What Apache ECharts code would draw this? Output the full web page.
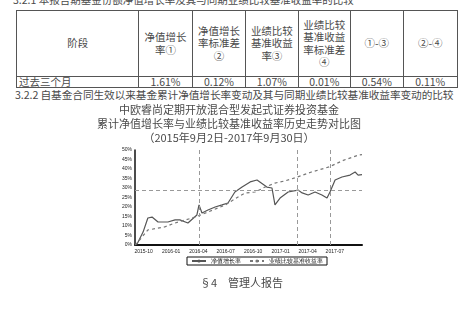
<!DOCTYPE html>
<html>
<head>
<meta charset="utf-8">
<script src="https://cdn.jsdelivr.net/npm/echarts@6/dist/echarts.min.js"></script>
<style>
    html, body { margin: 0; padding: 0; background: #fff; width: 458px; height: 309px; overflow: hidden; }
    body { font-family: "Noto Sans CJK SC", sans-serif; color: #4a4a4a; position: relative; }
    .line { position: absolute; white-space: nowrap; font-size: 11px; line-height: 14px; z-index: 2; }
    .center { left: 0; width: 458px; text-align: center; }
    table { position: absolute; left: 16px; top: 10px; border-collapse: collapse; table-layout: fixed; font-size: 10.5px; color: #4a4a4a; }
    td { border: 1px solid #555; text-align: center; padding: 0; line-height: 12.5px; }
    #chart { position: absolute; left: 0; top: 144px; width: 458px; height: 132px; }
</style>
</head>
<body>

<div class="line" style="left:13px; top:-7px; font-size:10.5px;">3.2.1 本报告期基金份额净值增长率及其与同期业绩比较基准收益率的比较</div>

<table id="perf-table"></table>

<div class="line" style="left:15px; top:88px; font-size:10.7px; letter-spacing:-0.1px;">3.2.2 自基金合同生效以来基金累计净值增长率变动及其与同期业绩比较基准收益率变动的比较</div>
<div class="line center" style="top:102px;">中欧睿尚定期开放混合型发起式证券投资基金</div>
<div class="line center" style="top:116px;">累计净值增长率与业绩比较基准收益率历史走势对比图</div>
<div class="line center" style="top:130px;">（2015年9月2日-2017年9月30日）</div>

<div id="chart"></div>

<div class="line" style="left:200px; top:275px;">§4　管理人报告</div>

<script>
// ===== 表格数据 =====
const tableHeaders = ['阶段', '净值增长<br>率①', '净值增长<br>率标准差<br>②', '业绩比较<br>基准收益<br>率③', '业绩比较<br>基准收益<br>率标准差<br>④', '①-③', '②-④'];
const tableRowLabel = '过去三个月';
const tableRowValues = ['1.61%', '0.12%', '1.07%', '0.01%', '0.54%', '0.11%'];
const colWidths = [124, 53, 53, 52, 52, 52, 54];

// ===== 图表数据 =====
const fundDates = ['2015-09-02', '2015-09-09', '2015-09-29', '2015-10-15', '2015-10-29', '2015-11-18', '2015-12-21',
    '2016-01-14', '2016-01-30', '2016-02-26', '2016-03-27', '2016-04-03', '2016-04-13', '2016-05-03', '2016-05-27',
    '2016-06-19', '2016-07-09', '2016-08-01', '2016-08-25', '2016-09-21', '2016-10-14', '2016-11-16', '2016-12-03',
    '2016-12-13', '2016-12-30', '2017-01-26', '2017-02-28', '2017-03-14', '2017-04-03', '2017-04-26', '2017-05-19',
    '2017-06-05', '2017-06-15', '2017-07-02', '2017-07-25', '2017-08-21', '2017-09-07', '2017-09-17', '2017-09-30'];
const fundValues = [0, 0.5, 6.8, 14.2, 14.7, 12.1, 12.1,
    13.2, 13.2, 11.6, 15.8, 21.1, 16.8, 18.4, 20.0,
    21.1, 22.1, 27.9, 30.5, 33.2, 34.2, 30.5, 30.0,
    21.1, 24.7, 27.9, 28.9, 27.4, 26.3, 27.9, 26.3,
    24.7, 27.9, 34.2, 35.8, 36.8, 38.4, 36.8, 37.0];

const benchDates = ['2015-09-02', '2015-09-12', '2015-10-15', '2015-12-10', '2016-01-14', '2016-03-21', '2016-05-04',
    '2016-06-30', '2016-08-19', '2016-09-05', '2016-10-08', '2016-11-10', '2016-12-13', '2017-01-15', '2017-02-17',
    '2017-04-14', '2017-06-12', '2017-08-01', '2017-09-20', '2017-09-30'];
const benchValues = [0, 1.6, 7.9, 9.5, 11.6, 14.7, 17.4,
    21.1, 26.0, 27.4, 27.9, 30.5, 32.6, 33.7, 35.3,
    38.4, 41.1, 44.7, 47.4, 47.6];

const seriesNames = ['净值增长率', '业绩比较基准收益率'];
const markDates = ['2016-04-03', '2017-02-25', '2017-06-15'];
const markLevel = 29;

// ===== 渲染表格 =====
function renderTable() {
    const table = document.getElementById('perf-table');
    const head = tableHeaders.map((h, i) =>
        `<td style="width:${colWidths[i]}px;height:65px;">${h}</td>`).join('');
    const body = `<td style="text-align:left;padding-left:2px;height:10px;line-height:10px;">${tableRowLabel}</td>` +
        tableRowValues.map(v => `<td style="height:10px;line-height:10px;">${v}</td>`).join('');
    table.innerHTML = `<tr>${head}</tr><tr>${body}</tr>`;
}

// ===== 渲染走势图 =====
function renderChart() {
    const chart = echarts.init(document.getElementById('chart'));
    const toPairs = (dates, values) => dates.map((d, i) => [d, values[i]]);

    const option = {
        animation: false,
        grid: { left: 135, right: 96, top: 6, bottom: 31 },
        legend: {
            data: seriesNames,
            left: 187,
            top: 113,
            padding: [1, 4],
            itemGap: 8,
            itemWidth: 14,
            itemHeight: 4,
            borderColor: '#111',
            borderWidth: 1,
            textStyle: { fontSize: 6, color: '#111' },
        },
        xAxis: {
            type: 'time',
            min: '2015-09-02',
            max: '2017-09-30',
            splitNumber: 8,
            axisLine: { lineStyle: { color: '#111', width: 2 } },
            axisTick: { show: false },
            splitLine: { show: false },
            axisLabel: { fontSize: 5, color: '#222', margin: 4, hideOverlap: true, formatter: '{yyyy}-{MM}' },
        },
        yAxis: {
            type: 'value',
            min: 0,
            max: 50,
            interval: 5,
            axisLine: { show: true, lineStyle: { color: '#111', width: 1.5 } },
            axisTick: { show: false },
            splitLine: { show: false },
            axisLabel: { fontSize: 5, color: '#222', margin: 3, formatter: '{value}%' },
        },
        series: [
            {
                name: seriesNames[0],
                type: 'line',
                data: toPairs(fundDates, fundValues),
                symbol: 'none',
                lineStyle: { color: '#555', width: 1.2 },
                itemStyle: { color: '#555' },
                markLine: {
                    silent: true,
                    symbol: 'none',
                    label: { show: false },
                    lineStyle: { color: '#999', width: 1, type: [4, 3] },
                    data: markDates.map(d => ({ xAxis: d })).concat([{ yAxis: markLevel }]),
                },
            },
            {
                name: seriesNames[1],
                type: 'line',
                data: toPairs(benchDates, benchValues),
                symbol: 'none',
                lineStyle: { color: '#777', width: 1.2, type: [3, 3] },
                itemStyle: { color: '#777' },
            },
        ],
    };

    chart.setOption(option);
}

renderTable();
renderChart();
</script>
</body>
</html>
